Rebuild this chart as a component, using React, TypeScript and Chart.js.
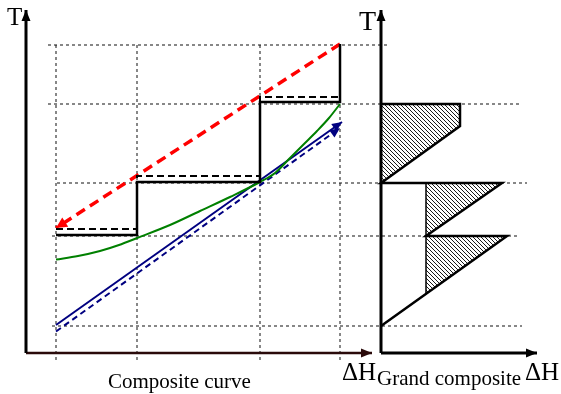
import React, { useEffect, useRef } from "react";
import { Chart, registerables } from "chart.js";

Chart.register(...registerables);

// ---- data (H = enthalpy units from left origin, T = temperature units above axis) ----
// temperature interval boundaries (dotted grid rows)
const GRID_ROWS_T = [308, 249, 170, 117, 27];
const GRID_ROWS_H_FROM = [22, 22, 31, 26, 26];
const GRID_ROWS_H_TO = [361, 494, 501, 494, 496];
// enthalpy grid columns
const GRID_COLS_H = [30, 111, 234, 314];
const GRID_COLS_T_RANGE = [308, -10];

// stepwise composite (solid)
const STEP_H = [30, 111, 111, 234, 234, 314, 314];
const STEP_T = [118, 118, 171, 171, 251, 251, 309];
// stepwise composite (shifted, dashed)
const STEP2_H = [30, 111, 111, 234, 234, 314];
const STEP2_T = [124, 124, 177, 177, 256, 256];
// hot stream (red dashed, arrow towards low end)
const RED_H = [314, 30];
const RED_T = [309, 125];
// green curve
const GREEN_H = [30, 52, 74, 93, 111, 144, 174, 204, 234, 249, 264, 278, 291, 303, 314];
const GREEN_T = [93.5, 97, 102, 108, 115, 128, 142, 156, 171, 180, 195, 209, 222, 235, 249];
// cold stream (blue solid / blue dashed)
const BLUE_H = [30, 316];
const BLUE_T = [28, 231];
const BLUE2_H = [30, 314];
const BLUE2_T = [21.5, 225];

// grand composite curve, H relative to its own origin
const GCC_ORIGIN_H = 355;
const GCC_H = [0, 126, 45, 121, 0, 79, 79, 0];
const GCC_T = [27, 117, 117, 170, 170, 227, 249, 249];
const HATCH_TOP_H = [0, 79, 79, 0];
const HATCH_TOP_T = [249, 249, 227, 170];
const HATCH_MID_H = [45, 121, 45];
const HATCH_MID_T = [170, 170, 117];
const HATCH_LOW_H = [45, 126, 45];
const HATCH_LOW_T = [117, 117, 60];
const GCC_VERT_H = [45, 45];
const GCC_VERT_T = [170, 60];

// axes extents
const AXIS_T_MAX = 343;
const LEFT_AXIS_H_MAX = 346;
const RIGHT_AXIS_H_LEN = 156;

const pts = (hs: number[], ts: number[], dx = 0) =>
  hs.map((h, i) => ({ x: h + dx, y: ts[i] }));

const SERIF = '"Liberation Serif", "Times New Roman", serif';

export default function App() {
  const ref = useRef<HTMLCanvasElement>(null);

  useEffect(() => {
    const canvas = ref.current!;
    const ctx = canvas.getContext("2d")!;

    // hatch pattern
    const pc = document.createElement("canvas");
    pc.width = 4;
    pc.height = 4;
    const p = pc.getContext("2d")!;
    p.strokeStyle = "#000";
    p.lineWidth = 0.9;
    p.beginPath();
    p.moveTo(-1, -1);
    p.lineTo(5, 5);
    p.moveTo(-1, 3);
    p.lineTo(1, 5);
    p.moveTo(3, -1);
    p.lineTo(5, 1);
    p.stroke();
    const hatch = ctx.createPattern(pc, "repeat");

    const datasets: any[] = [];
    const add = (data: any[], opts: any) =>
      datasets.push({
        data,
        borderColor: "#000",
        borderWidth: 1,
        pointRadius: 0,
        fill: false,
        clip: false,
        order: 1,
        ...opts,
      });

    // grid
    GRID_ROWS_T.forEach((t, i) =>
      add(
        [
          { x: GRID_ROWS_H_FROM[i], y: t },
          { x: GRID_ROWS_H_TO[i], y: t },
        ],
        { borderColor: "#111", borderDash: [3, 3], order: 10 }
      )
    );
    GRID_COLS_H.forEach((h) =>
      add(
        [
          { x: h, y: GRID_COLS_T_RANGE[0] },
          { x: h, y: GRID_COLS_T_RANGE[1] },
        ],
        { borderColor: "#111", borderDash: [3, 3], order: 10 }
      )
    );

    // hatched regions
    [
      [HATCH_TOP_H, HATCH_TOP_T],
      [HATCH_MID_H, HATCH_MID_T],
      [HATCH_LOW_H, HATCH_LOW_T],
    ].forEach(([hs, ts]) =>
      add(pts(hs, ts, GCC_ORIGIN_H), {
        fill: "shape",
        backgroundColor: hatch,
        borderColor: "rgba(0,0,0,0)",
        borderWidth: 0,
        order: 8,
      })
    );

    // axes
    add(
      [
        { x: 0, y: 0 },
        { x: 0, y: AXIS_T_MAX },
      ],
      { borderWidth: 3, arrow: { len: 11, half: 4.5, color: "#000" } }
    );
    add(
      [
        { x: 0, y: 0 },
        { x: LEFT_AXIS_H_MAX, y: 0 },
      ],
      { borderWidth: 2.5, borderColor: "#2a0a0a", arrow: { len: 11, half: 4.5, color: "#2a0a0a" } }
    );
    add(
      [
        { x: GCC_ORIGIN_H, y: 0 },
        { x: GCC_ORIGIN_H, y: AXIS_T_MAX },
      ],
      { borderWidth: 3, arrow: { len: 11, half: 4.5, color: "#000" } }
    );
    add(
      [
        { x: GCC_ORIGIN_H, y: 0 },
        { x: GCC_ORIGIN_H + RIGHT_AXIS_H_LEN, y: 0 },
      ],
      { borderWidth: 3, arrow: { len: 11, half: 4.5, color: "#000" } }
    );

    // composite curve diagram
    add(pts(STEP_H, STEP_T), { borderWidth: 2.5 });
    add(pts(STEP2_H, STEP2_T), { borderWidth: 2, borderDash: [7, 4] });
    add(pts(RED_H, RED_T), {
      borderColor: "#ff0000",
      borderWidth: 3.5,
      borderDash: [10, 6],
      arrow: { len: 11, half: 5.5, color: "#ff0000" },
    });
    add(pts(GREEN_H, GREEN_T), {
      borderColor: "#008000",
      borderWidth: 2,
      cubicInterpolationMode: "monotone",
    });
    add(pts(BLUE_H, BLUE_T), {
      borderColor: "#000080",
      borderWidth: 2,
      arrow: { len: 10, half: 4.5, color: "#000080" },
    });
    add(pts(BLUE2_H, BLUE2_T), {
      borderColor: "#000080",
      borderWidth: 2,
      borderDash: [6, 4],
      arrow: { len: 10, half: 4.5, color: "#000080" },
    });

    // grand composite curve
    add(pts(GCC_H, GCC_T, GCC_ORIGIN_H), { borderWidth: 2.5 });
    add(pts(GCC_VERT_H, GCC_VERT_T, GCC_ORIGIN_H), { borderWidth: 1.5 });

    const arrowPlugin = {
      id: "arrows",
      afterDatasetsDraw(chart: any) {
        const c = chart.ctx;
        chart.data.datasets.forEach((ds: any, i: number) => {
          if (!ds.arrow) return;
          const el = chart.getDatasetMeta(i).data;
          const a = el[el.length - 2];
          const b = el[el.length - 1];
          const ang = Math.atan2(b.y - a.y, b.x - a.x);
          const { len, half, color } = ds.arrow;
          c.save();
          c.translate(b.x, b.y);
          c.rotate(ang);
          c.beginPath();
          c.moveTo(0, 0);
          c.lineTo(-len, half);
          c.lineTo(-len, -half);
          c.closePath();
          c.fillStyle = color;
          c.fill();
          c.restore();
        });
      },
    };

    const LABELS = [
      { text: "T", h: -19, t: 328, size: 25 },
      { text: "T", h: 333, t: 323, size: 28 },
      { text: "Composite curve", h: 82, t: -35, size: 21 },
      { text: "\u0394H", h: 316, t: -27, size: 25 },
      { text: "Grand composite", h: 351, t: -32, size: 21 },
      { text: "\u0394H", h: 499, t: -27, size: 25 },
    ];

    const textPlugin = {
      id: "labels",
      afterDraw(chart: any) {
        const c = chart.ctx;
        const xs = chart.scales.x;
        const ys = chart.scales.y;
        c.save();
        c.fillStyle = "#000";
        c.textAlign = "left";
        c.textBaseline = "alphabetic";
        LABELS.forEach((l) => {
          c.font = `${l.size}px ${SERIF}`;
          c.fillText(l.text, xs.getPixelForValue(l.h), ys.getPixelForValue(l.t));
        });
        c.restore();
      },
    };

    const chart = new Chart(canvas, {
      type: "line",
      data: { datasets },
      options: {
        animation: false,
        responsive: false,
        devicePixelRatio: 1,
        events: [],
        layout: { padding: 0 },
        plugins: { legend: { display: false }, tooltip: { enabled: false }, title: { display: false } },
        elements: { point: { radius: 0 }, line: { tension: 0 } },
        scales: {
          x: { type: "linear", min: -26, max: 535, display: false },
          y: { type: "linear", min: -41, max: 353, display: false },
        },
      } as any,
      plugins: [arrowPlugin, textPlugin],
    });
    return () => chart.destroy();
  }, []);

  return (
    <div style={{ position: "absolute", left: 0, top: 0, width: 561, height: 394, background: "#fff" }}>
      <canvas ref={ref} width={561} height={394} style={{ display: "block" }} />
    </div>
  );
}
